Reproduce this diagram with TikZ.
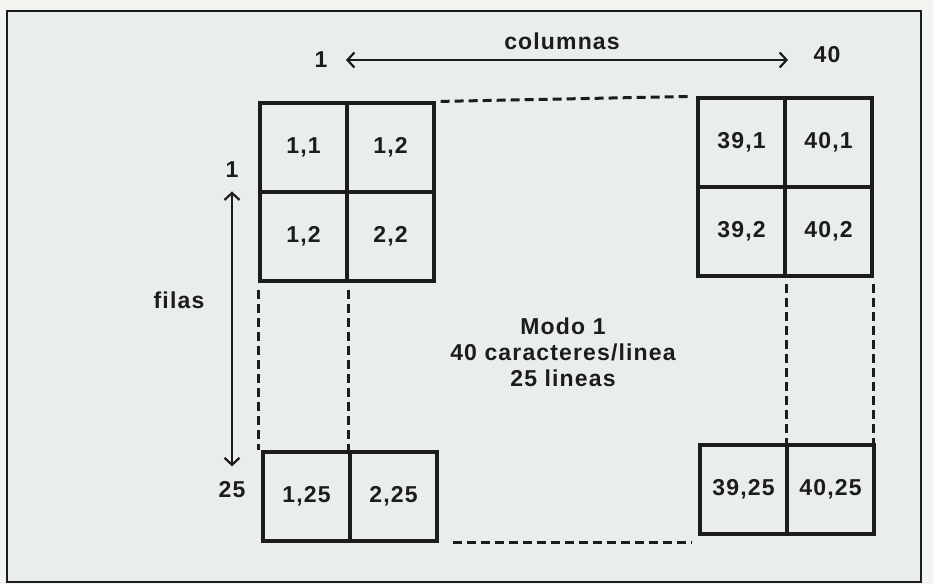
\documentclass[tikz,border=0pt]{standalone}
\usepackage{fontspec}
\setmainfont{Liberation Sans}[LetterSpace=5]
\usetikzlibrary{arrows.meta, positioning}
\definecolor{paper}{RGB}{233, 237, 235}
\definecolor{pageedge}{RGB}{242, 244, 240}
\definecolor{ink}{RGB}{28, 28, 28}

\begin{document}
\begin{tikzpicture}[x=1pt, y=-1pt, node distance=-3.2pt,
  every node/.style={text=ink, font=\fontsize{23}{26}\selectfont\bfseries},
  cell/.style={draw=ink, line width=3.2pt, minimum width=87pt, minimum height=89pt, inner sep=0pt},
  gap/.style={draw=ink, line width=3pt, dash pattern=on 9pt off 5pt},
  span/.style={draw=ink, line width=2.2pt, {Straight Barb[length=7pt,width=15pt]}-{Straight Barb[length=7pt,width=15pt]}}]
  % fondo y marco
  \fill[pageedge] (0,0) rectangle (933,584);
  \useasboundingbox (0,0) rectangle (933,584);
  \fill[paper, draw=ink, line width=2pt] (7,11) rectangle (921,582);

  % bloque superior izquierdo
  \node[cell] (c11) at (303.5,147.5) {1,1};
  \node[cell, right=of c11] (c21) {1,2};
  \node[cell, below=of c11] (c12) {1,2};
  \node[cell, right=of c12] (c22) {2,2};

  % bloque superior derecho
  \node[cell] (c391) at (741.5,142.5) {39,1};
  \node[cell, right=of c391] (c401) {40,1};
  \node[cell, below=of c391] (c392) {39,2};
  \node[cell, right=of c392] (c402) {40,2};

  % fila 25
  \node[cell] (c125) at (306.5,496.5) {1,25};
  \node[cell, right=of c125] (c225) {2,25};
  \node[cell] (c3925) at (743.5,489.5) {39,25};
  \node[cell, right=of c3925] (c4025) {40,25};

  % lineas de trazos
  \draw[gap] ([xshift=5pt]c21.north east) -- ([xshift=-5pt]c391.north west);
  \draw[gap] ([xshift=14pt]c225.south east) -- ([xshift=-6pt]c225.south east -| c3925.west);
  \draw[gap] ([yshift=-7pt]c12.south west) -- (c12.south west |- c125.north);
  \draw[gap] ([yshift=-7pt]c12.south east) -- (c12.south east |- c125.north);
  \draw[gap] ([yshift=-6pt]c392.south east) -- (c392.south east |- c3925.north);
  \draw[gap] ([yshift=-6pt]c402.south east) -- (c402.south east |- c4025.north);

  % columnas
  \node (colA) at (321,60) {1};
  \node (colB) at (827,55) {40};
  \node (colT) at (562,41) {columnas};
  \draw[span, shorten <=15pt, shorten >=22pt] (colA.east) -- (colB.west |- colA.east);

  % filas
  \node (rowA) at (232,170) {1};
  \node (rowB) at (232,490) {25};
  \node (rowT) at (179,300) {filas};
  \draw[span, shorten <=10pt, shorten >=12pt] (rowA.south) -- (rowB.north);

  % modo
  \node[align=center] (modo) at (563,352) {Modo 1\\40 caracteres/linea\\25 lineas};
\end{tikzpicture}
\end{document}
